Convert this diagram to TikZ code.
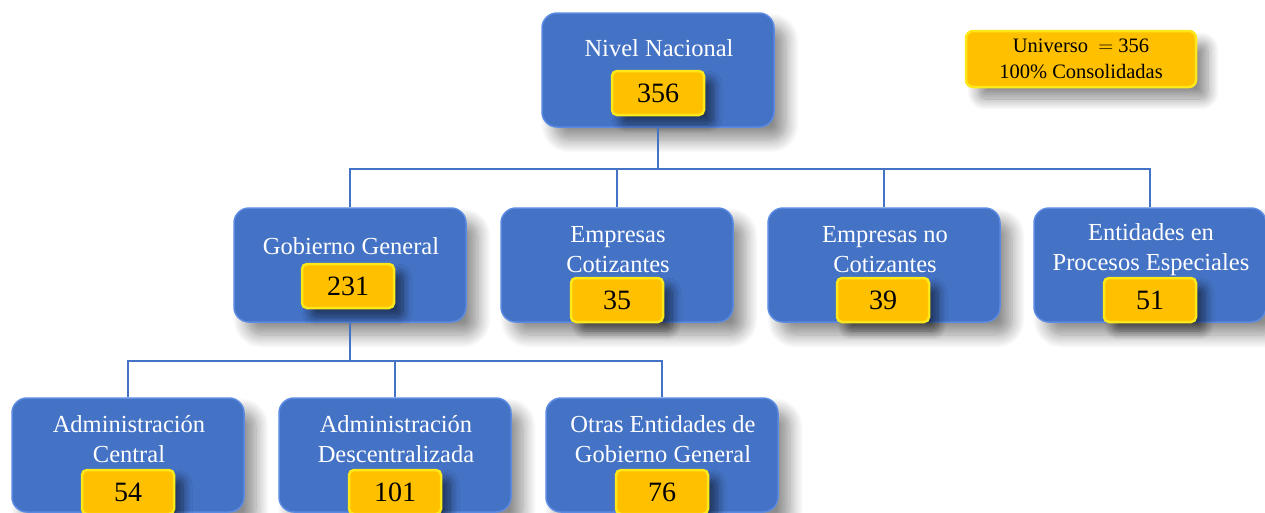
\documentclass[tikz,border=0pt]{standalone}
\usepackage{fontspec}
\setmainfont{Liberation Serif}
\usetikzlibrary{shadows.blur}
\definecolor{boxblue}{HTML}{4472C4}
\definecolor{edgeblue}{HTML}{5A8AE2}
\definecolor{numyellow}{HTML}{FFC000}
\definecolor{rimyellow}{HTML}{FFE81A}
\tikzset{
 bluebox/.style={fill=boxblue, draw=edgeblue, line width=1.5pt, rounded corners=15pt, minimum width=232pt, minimum height=114pt, inner sep=0pt,
   blur shadow={shadow xshift=12pt, shadow yshift=-13pt, shadow blur radius=13pt, shadow blur steps=12, shadow opacity=45}},
 numbox/.style={fill=numyellow, draw=rimyellow, line width=2.5pt, rounded corners=5pt, minimum width=92pt, minimum height=44pt, inner sep=0pt,
   font=\fontsize{28}{30}\selectfont,
   blur shadow={shadow xshift=9pt, shadow yshift=-9pt, shadow blur radius=9pt, shadow blur steps=10, shadow opacity=55}},
 lbl/.style={text=white, font=\fontsize{24.5}{30}\selectfont, align=center, inner sep=0pt},
 unibox/.style={fill=numyellow, draw=rimyellow, line width=2.5pt, rounded corners=7pt, minimum width=230pt, minimum height=56pt, inner sep=0pt,
   align=center, font=\fontsize{20.5}{26}\selectfont,
   blur shadow={shadow xshift=12pt, shadow yshift=-12pt, shadow blur radius=11pt, shadow blur steps=12, shadow opacity=45}},
 link/.style={draw=boxblue, line width=2pt},
}
\begin{document}
\begin{tikzpicture}[x=1pt,y=-1pt]
\useasboundingbox (0,0) rectangle (1265,512);
% top
\node[bluebox] (nn) at (658,70) {};
\node[lbl] (nnl) at (659,48) {Nivel Nacional};
\node[numbox] (nnv) at (658,93) {356};
\node[unibox] (uni) at (1081,59) {Universo \ $=$ 356\\100\% Consolidadas};
% row 2
\node[bluebox] (gg) at (350,265) {};
\node[lbl] (ggl) at (351,246) {Gobierno General};
\node[numbox] (ggv) at (348,286) {231};
\node[bluebox] (ec) at (617,265) {};
\node[lbl] (ecl) at (618,250) {Empresas\\Cotizantes};
\node[numbox] (ecv) at (617,300) {35};
\node[bluebox] (enc) at (884,265) {};
\node[lbl] (encl) at (885,250) {Empresas no\\Cotizantes};
\node[numbox] (encv) at (883,300) {39};
\node[bluebox] (eps) at (1150,265) {};
\node[lbl] (epsl) at (1151,250) {Entidades en\\Procesos Especiales};
\node[numbox] (epsv) at (1150,300) {51};
% row 3
\node[bluebox] (ac) at (128,455) {};
\node[lbl] (acl) at (129,439) {Administración\\Central};
\node[numbox] (acv) at (128,492) {54};
\node[bluebox] (ad) at (395,455) {};
\node[lbl] (adl) at (396,439) {Administración\\Descentralizada};
\node[numbox] (adv) at (395,492) {101};
\node[bluebox] (oe) at (662,455) {};
\node[lbl] (oel) at (663,439) {Otras Entidades de\\Gobierno General};
\node[numbox] (oev) at (662,492) {76};
% connectors
\coordinate (j1) at (658,169);
\coordinate (j2) at (350,361);
\draw[link] (nn.south) -- (j1);
\draw[link] (j1) -| (gg.north);
\draw[link] (j1) -| (ec.north);
\draw[link] (j1) -| (enc.north);
\draw[link] (j1) -| (eps.north);
\draw[link] (gg.south) -- (j2);
\draw[link] (j2) -| (ac.north);
\draw[link] (j2) -| (ad.north);
\draw[link] (j2) -| (oe.north);
\end{tikzpicture}
\end{document}
